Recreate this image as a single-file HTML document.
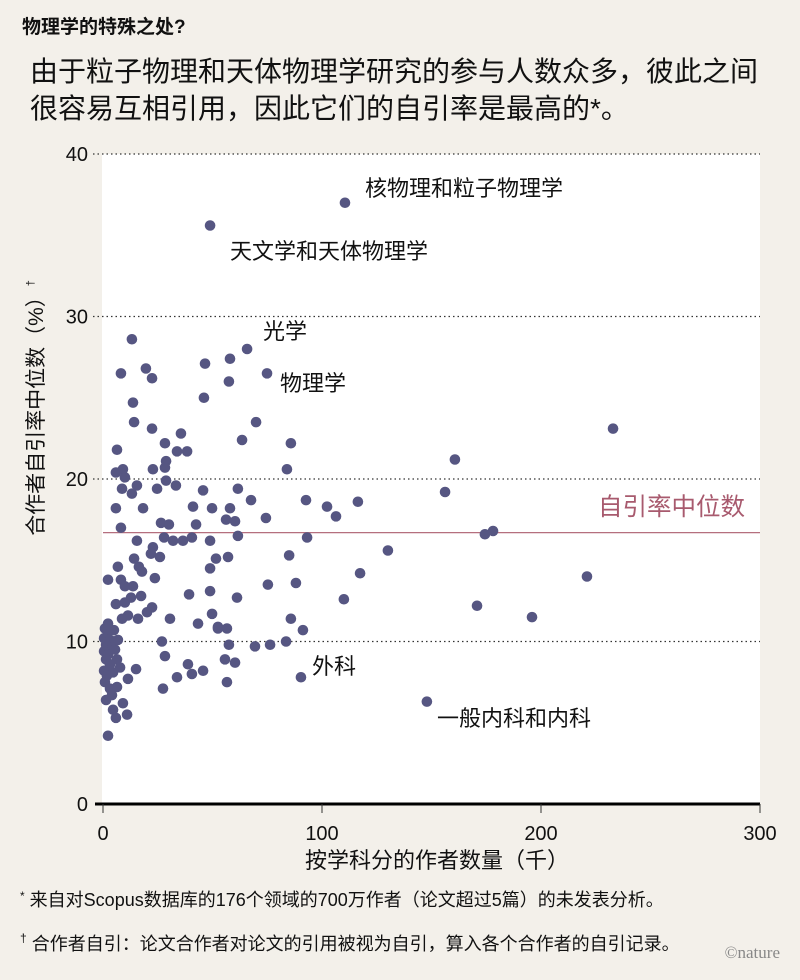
<!DOCTYPE html>
<html><head><meta charset="utf-8"><style>
body{margin:0;background:#f3f0ea;}
svg{display:block;font-family:"Liberation Sans","Noto Sans CJK SC",sans-serif;}
</style></head><body>
<svg id="chart" width="800" height="980" viewBox="0 0 800 980">
<rect x="0" y="0" width="800" height="980" fill="#f3f0ea"/>
<text x="22" y="33" font-size="19" font-weight="bold" fill="#111">物理学的特殊之处?</text>
<text x="30" y="81" font-size="28" fill="#111">由于粒子物理和天体物理学研究的参与人数众多，彼此之间</text>
<text x="30" y="118" font-size="28" fill="#111">很容易互相引用，因此它们的自引率是最高的*。</text>
<rect x="102" y="154" width="658" height="650" fill="#ffffff"/>
<g id="grid"></g>
<g id="marks"></g>
<g id="axes"></g>
<text x="365" y="196" font-size="22" fill="#111">核物理和粒子物理学</text>
<text x="230" y="259" font-size="22" fill="#111">天文学和天体物理学</text>
<text x="263" y="339" font-size="22" fill="#111">光学</text>
<text x="280" y="391" font-size="22" fill="#111">物理学</text>
<text x="312" y="674" font-size="22" fill="#111">外科</text>
<text x="437" y="726" font-size="22" fill="#111">一般内科和内科</text>
<text x="598" y="515" font-size="24.5" fill="#a85a6e">自引率中位数</text>
<text x="437" y="868" font-size="22" fill="#111" text-anchor="middle">按学科分的作者数量（千）</text>
<text transform="translate(43,408) rotate(-90)" font-size="21" fill="#111" text-anchor="middle">合作者自引率中位数（%）<tspan font-size="11" dy="-9">†</tspan></text>
<text x="20" y="906" font-size="18" fill="#111"><tspan font-size="12" dy="-6">*</tspan><tspan dy="6"> 来自对Scopus数据库的176个领域的700万作者（论文超过5篇）的未发表分析。</tspan></text>
<text x="20" y="950" font-size="18" fill="#111"><tspan font-size="12" dy="-8">†</tspan><tspan dy="8"> 合作者自引：论文合作者对论文的引用被视为自引，算入各个合作者的自引记录。</tspan></text>
<text x="780" y="958" font-size="17" fill="#888" text-anchor="end" font-family="Liberation Serif,serif">©nature</text>
</svg>
<script>
const xTicks=[0,100,200,300];
const yTicks=[0,10,20,30,40];
const medianValue=16.7;
const authorsK=[110.5,48.9,65.8,74.9,58,46.6,57.5,46.1,69.9,63.5,85.8,232.9,160.7,84,156.2,116.4,92.7,102.3,106.4,74.4,67.6,61.6,178.1,174.4,93.2,130.1,85,117.4,221,75.3,88.1,61.2,110,170.8,195.9,85.8,76.3,69.4,83.6,91.3,90.4,147.9,49.8,56.6,57.5,52.5,
13.2,8.2,19.6,22.4,13.7,14.2,22.4,35.6,28.3,33.8,38.4,6.4,5.9,9.1,22.8,28.8,28.3,10,28.8,15.5,8.7,13.2,24.7,33.3,45.7,5.9,18.3,41.1,49.8,58,56.2,60.3,8.2,26.5,30.1,42.5,27.9,32,36.5,40.6,48.9,61.6,15.5,22.8,21.9,26,14.2,6.8,16.4,17.8,51.6,48.9,57.1,2.3,8.2,10,13.7,23.7,17.4,12.8,5.9,10,22.4,20.1,11.4,16,8.7,30.6,39.3,48.9,43.4,52.5,26.9,28.3,55.7,60.3,38.8,40.6,45.7,15.1,11.4,33.8,27.4,56.6,6.4,9.1,4.6,5.9,11,2.3,
0.9,2.3,0.5,3.2,1.4,4.1,0.5,2.3,5.5,1.4,3.2,0.5,4.6,1.8,6.4,7.8,0.9,3.2,4.1,1.4,6.8,5,2.3];
const selfCitePct=[37,35.6,28,26.5,27.4,27.1,26,25,23.5,22.4,22.2,23.1,21.2,20.6,19.2,18.6,18.7,18.3,17.7,17.6,18.7,19.4,16.8,16.6,16.4,15.6,15.3,14.2,14,13.5,13.6,12.7,12.6,12.2,11.5,11.4,9.8,9.7,10,10.7,7.8,6.3,11.7,10.8,9.8,10.8,
28.6,26.5,26.8,26.2,24.7,23.5,23.1,22.8,22.2,21.7,21.7,21.8,20.4,20.6,20.6,21.1,20.7,20.1,19.9,19.6,19.4,19.1,19.4,19.6,19.3,18.2,18.2,18.3,18.2,18.2,17.5,17.4,17,17.3,17.2,17.2,16.4,16.2,16.2,16.4,16.2,16.5,16.2,15.8,15.4,15.2,15.1,14.6,14.6,14.3,15.1,14.5,15.2,13.8,13.8,13.4,13.4,13.9,12.8,12.7,12.3,12.4,12.1,11.8,11.6,11.4,11.4,11.4,12.9,13.1,11.1,10.9,10,9.1,8.9,8.7,8.6,8,8.2,8.3,7.7,7.8,7.1,7.5,7.2,6.2,5.8,5.3,5.5,4.2,
10.8,10.6,10.2,10.1,9.8,9.6,9.4,9.2,9.5,8.9,8.6,8.2,8.1,7.9,8.9,8.4,7.5,7.1,6.7,6.4,10.1,10.7,11.1];
const NS='http://www.w3.org/2000/svg';
const X0=103,X1=760,Y0=804,Y1=154;
function xScale(v){return X0+(v-0)/300*(X1-X0);}
function yScale(v){return Y0-(v-0)/40*(Y0-Y1);}
function mk(tag,attrs,parent){const e=document.createElementNS(NS,tag);for(const k in attrs)e.setAttribute(k,attrs[k]);parent.appendChild(e);return e;}
const grid=document.getElementById('grid'),marks=document.getElementById('marks'),axes=document.getElementById('axes');
yTicks.forEach(t=>{
  if(t>0){const l=mk('line',{x1:93,x2:X1,y1:yScale(t),y2:yScale(t),stroke:'#333','stroke-width':1.3,'stroke-dasharray':'1.5,3'},grid);
  
  }
  const tx=mk('text',{x:88,y:yScale(t)+7,'font-size':20,'text-anchor':'end',fill:'#111'},axes);
  tx.textContent=t;
  
  
});
const med=mk('line',{x1:X0,x2:X1,y1:yScale(medianValue),y2:yScale(medianValue),stroke:'#b56f7e','stroke-width':1.3},grid);


authorsK.forEach((v,i)=>{
  const c=mk('circle',{cx:xScale(v),cy:yScale(selfCitePct[i]),r:5.3,fill:'#565682'},marks);
  
  
});
const ax=mk('line',{x1:95,x2:X1,y1:Y0,y2:Y0,stroke:'#000','stroke-width':3},axes);


xTicks.forEach(t=>{
  const tk=mk('line',{x1:xScale(t),x2:xScale(t),y1:Y0,y2:Y0+9,stroke:'#333','stroke-width':1},axes);
  
  
  const tx=mk('text',{x:xScale(t),y:Y0+36,'font-size':20,'text-anchor':'middle',fill:'#111'},axes);
  tx.textContent=t;
  
  
});
</script>
</body></html>
